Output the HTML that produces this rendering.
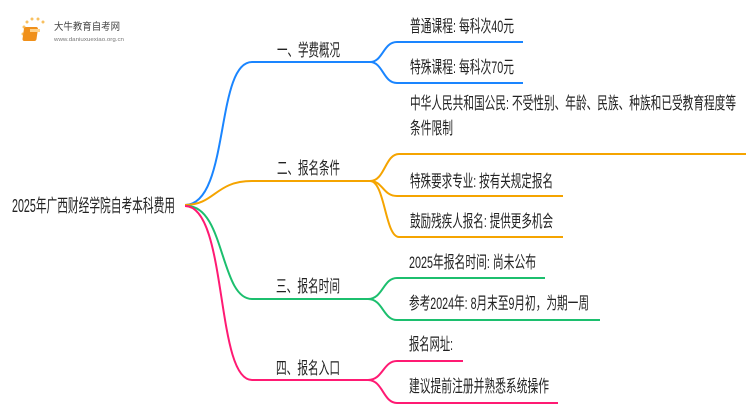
<!DOCTYPE html>
<html><head><meta charset="utf-8"><style>
html,body{margin:0;padding:0;background:#fff;}
svg{display:block;}
text{font-family:"Liberation Sans","Noto Sans CJK SC",sans-serif;fill:#222;font-size:17px;}
</style></head><body>
<svg width="750" height="410" viewBox="0 0 750 410" xmlns="http://www.w3.org/2000/svg">
<!-- logo -->
<g>
  <circle cx="24" cy="27" r="1.5" fill="#f8c060"/><circle cx="27" cy="22" r="1.5" fill="#f8c060"/>
  <circle cx="32" cy="19" r="1.5" fill="#f8c060"/><circle cx="38" cy="19" r="1.5" fill="#f8c060"/>
  <circle cx="43" cy="22" r="1.5" fill="#f8c060"/><circle cx="23" cy="34" r="1.5" fill="#f8c060"/>
  <rect x="28" y="27" width="14" height="14" rx="2" fill="#f0901a" transform="skewX(-8)"/>
  <rect x="30" y="29" width="10" height="3" fill="#ffd28a"/>
  <text x="54" y="30" style="font-size:10px;fill:#444" textLength="66" lengthAdjust="spacingAndGlyphs">大牛教育自考网</text>
  <text x="54" y="41" style="font-size:5px;fill:#777" textLength="70" lengthAdjust="spacingAndGlyphs">www.daniuxuexiao.org.cn</text>
</g>
<!-- root -->
<text x="12" y="212" style="font-size:18px" textLength="163" lengthAdjust="spacingAndGlyphs">2025年广西财经学院自考本科费用</text>
<g fill="none" stroke-width="2">
  <path d="M185 205 C230 205 215 62 252 62 L370 62" stroke="#1a85ff"/>
  <path d="M370 62 C383 62 383 42 397 42 L523 42" stroke="#1a85ff"/>
  <path d="M370 62 C383 62 383 83 397 83 L523 83" stroke="#1a85ff"/>
  <path d="M185 205 C215 205 215 181 252 181 L370 181" stroke="#f5a400"/>
  <path d="M370 181 C385 181 385 154 399 154 L746 154" stroke="#f5a400"/>
  <path d="M370 181 C383 181 383 196 397 196 L563 196" stroke="#f5a400"/>
  <path d="M370 181 C385 181 385 237 399 237 L563 237" stroke="#f5a400"/>
  <path d="M187 206 C225 206 220 299 252 299 L368 299" stroke="#1cbf6e"/>
  <path d="M368 299 C383 299 383 278 397 278 L545 278" stroke="#1cbf6e"/>
  <path d="M368 299 C383 299 383 320 397 320 L600 320" stroke="#1cbf6e"/>
  <path d="M185 206 C228 206 215 380 252 380 L368 380" stroke="#ff1a73"/>
  <path d="M368 380 C383 380 383 361 397 361 L463 361" stroke="#ff1a73"/>
  <path d="M368 380 C383 380 383 403 397 403 L558 403" stroke="#ff1a73"/>
</g>
<text x="277" y="56" textLength="63" lengthAdjust="spacingAndGlyphs">一、学费概况</text>
<text x="277" y="174" textLength="63" lengthAdjust="spacingAndGlyphs">二、报名条件</text>
<text x="276" y="292" textLength="64" lengthAdjust="spacingAndGlyphs">三、报名时间</text>
<text x="276" y="374" textLength="64" lengthAdjust="spacingAndGlyphs">四、报名入口</text>
<text x="410" y="32" textLength="104" lengthAdjust="spacingAndGlyphs">普通课程: 每科次40元</text>
<text x="410" y="73" textLength="104" lengthAdjust="spacingAndGlyphs">特殊课程: 每科次70元</text>
<text x="410" y="109" textLength="326" lengthAdjust="spacingAndGlyphs">中华人民共和国公民: 不受性别、年龄、民族、种族和已受教育程度等</text>
<text x="410" y="134" textLength="43" lengthAdjust="spacingAndGlyphs">条件限制</text>
<text x="410" y="187" textLength="143" lengthAdjust="spacingAndGlyphs">特殊要求专业: 按有关规定报名</text>
<text x="410" y="227" textLength="143" lengthAdjust="spacingAndGlyphs">鼓励残疾人报名: 提供更多机会</text>
<text x="409" y="268" textLength="127" lengthAdjust="spacingAndGlyphs">2025年报名时间: 尚未公布</text>
<text x="409" y="309" textLength="180" lengthAdjust="spacingAndGlyphs">参考2024年: 8月末至9月初，为期一周</text>
<text x="409" y="350" textLength="44" lengthAdjust="spacingAndGlyphs">报名网址:</text>
<text x="409" y="392" textLength="140" lengthAdjust="spacingAndGlyphs">建议提前注册并熟悉系统操作</text>
</svg>
</body></html>
